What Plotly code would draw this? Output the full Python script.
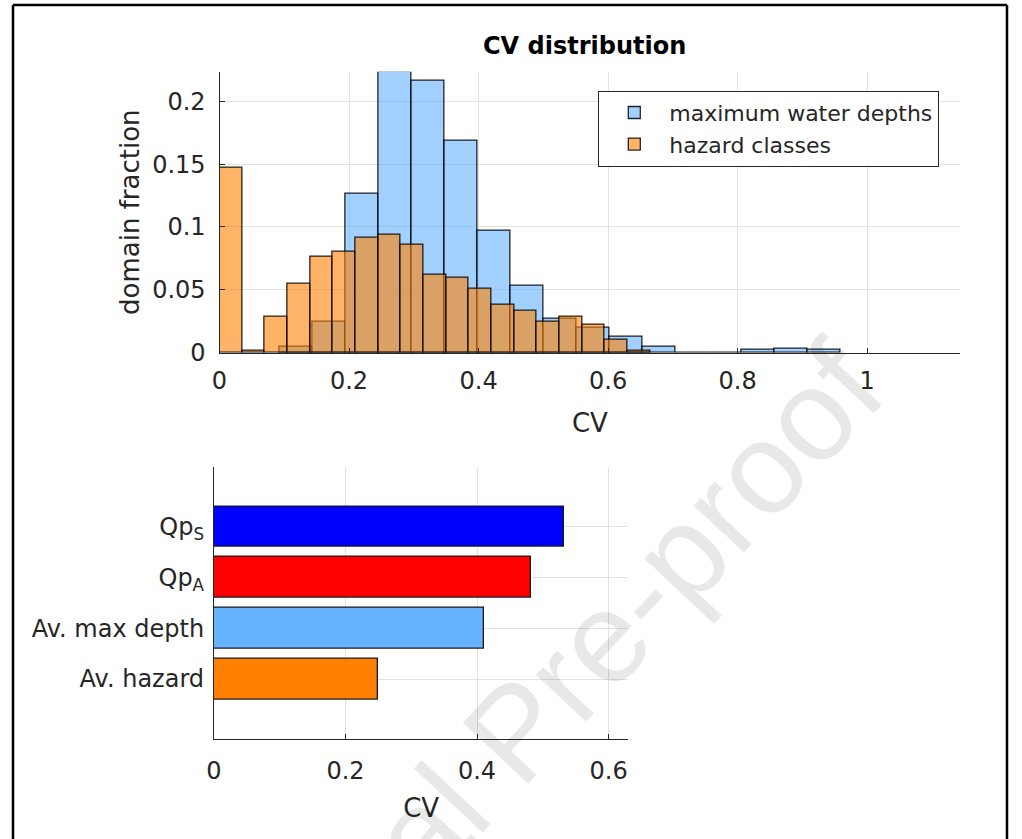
import plotly.graph_objects as go

# ---- data -------------------------------------------------------------
# Histogram of CV for maximum water depths (bin start, bin width, fractions)
depth_bin_start = 0.0924
depth_bin_width = 0.0510
depth_fraction = [0.0048, 0.0246, 0.1262, 0.2235, 0.2167, 0.1688, 0.0971,
                  0.0532, 0.0273, 0.0198, 0.0127, 0.0045, 0.0, 0.0,
                  0.0021, 0.0035, 0.0021]

# Histogram of CV for hazard classes
hazard_bin_start = 0.0
hazard_bin_width = 0.0350
hazard_fraction = [0.1474, 0.0013, 0.0283, 0.0545, 0.0760, 0.0807, 0.0913,
                   0.0942, 0.0857, 0.0617, 0.0595, 0.0511, 0.0379, 0.0331,
                   0.0246, 0.0283, 0.0222, 0.0103, 0.0019]

# CV of aggregated quantities
bar_labels = ["Qp<sub>S</sub>", "Qp<sub>A</sub>", "Av. max depth", "Av. hazard"]
bar_values = [0.532, 0.482, 0.411, 0.250]
bar_colors = ["#0000FF", "#FF0000", "#66B3FF", "#FF8000"]

hist_xticks = [0, 0.2, 0.4, 0.6, 0.8, 1]
hist_yticks = [0, 0.05, 0.1, 0.15, 0.2]
bar_xticks = [0, 0.2, 0.4, 0.6]


def tick_text(vals):
    return [("%g" % v) for v in vals]


def centers(start, width, n):
    return [start + width * (i + 0.5) for i in range(n)]


W, H = 1022, 839
FONT = "DejaVu Sans"
AX = "#262626"
GRID = "#e2e2e2"

fig = go.Figure()

fig.add_trace(go.Bar(
    x=centers(depth_bin_start, depth_bin_width, len(depth_fraction)),
    y=depth_fraction, width=depth_bin_width,
    name="maximum water depths",
    marker=dict(color="rgba(102,179,255,0.6)",
                line=dict(color="rgba(0,0,0,0.85)", width=1.3)),
    xaxis="x", yaxis="y"))

fig.add_trace(go.Bar(
    x=centers(hazard_bin_start, hazard_bin_width, len(hazard_fraction)),
    y=hazard_fraction, width=hazard_bin_width,
    name="hazard classes",
    marker=dict(color="rgba(255,128,0,0.6)",
                line=dict(color="rgba(0,0,0,0.85)", width=1.3)),
    xaxis="x", yaxis="y"))

fig.add_trace(go.Bar(
    x=bar_values, y=bar_labels, orientation="h", width=0.8,
    marker=dict(color=bar_colors, line=dict(color="#1a1a1a", width=1.3)),
    showlegend=False, xaxis="x2", yaxis="y2"))


def px_x(p):
    return p / W


def px_y(p):
    return 1 - p / H


common_axis = dict(
    showline=True, linecolor=AX, linewidth=1.2,
    ticks="inside", ticklen=5, tickcolor=AX, tickwidth=1,
    showgrid=True, gridcolor=GRID, gridwidth=1,
    zeroline=False, mirror=False, automargin=False,
    tickfont=dict(family=FONT, size=24, color=AX),
)

fig.update_layout(
    width=W, height=H,
    margin=dict(l=0, r=0, t=0, b=0),
    paper_bgcolor="white", plot_bgcolor="white",
    barmode="overlay", bargap=0,
    font=dict(family=FONT, color=AX),
    xaxis=dict(common_axis,
               domain=[px_x(219.5), px_x(960.4)], anchor="y",
               range=[0, 1.144],
               tickvals=hist_xticks, ticktext=tick_text(hist_xticks),
               ticklabelstandoff=6,
               title=dict(text="CV", font=dict(family=FONT, size=26, color=AX),
                          standoff=20)),
    yaxis=dict(common_axis,
               domain=[px_y(352.7), px_y(71.7)], anchor="x",
               range=[0, 0.2235],
               tickvals=hist_yticks, ticktext=tick_text(hist_yticks),
               ticklabelstandoff=8,
               title=dict(text="domain fraction",
                          font=dict(family=FONT, size=26, color=AX),
                          standoff=5)),
    xaxis2=dict(common_axis,
                domain=[px_x(214), px_x(628.3)], anchor="y2",
                range=[0, 0.63],
                tickvals=bar_xticks, ticktext=tick_text(bar_xticks),
                ticklabelstandoff=10,
                title=dict(text="CV", font=dict(family=FONT, size=26, color=AX),
                           standoff=14)),
    yaxis2=dict(common_axis,
                domain=[px_y(739), px_y(466.7)], anchor="x2",
                type="category", categoryorder="array",
                categoryarray=bar_labels,
                range=[len(bar_labels) - 1 + 1.18, -1.18],
                ticks="", ticklabelstandoff=4),
    legend=dict(x=px_x(598.3), y=px_y(90.7), xanchor="left", yanchor="top",
                bgcolor="white", bordercolor=AX, borderwidth=1,
                font=dict(family=FONT, size=22, color=AX),
                tracegroupgap=0, itemwidth=60),
)

# Title of the histogram panel
fig.add_annotation(text="<b>CV distribution</b>", xref="paper", yref="paper",
                   x=px_x(584), y=px_y(46), xanchor="center", yanchor="middle",
                   showarrow=False,
                   font=dict(family=FONT, size=24, color="black"))

# Diagonal watermark
fig.add_annotation(text="Journal Pre-proof", xref="paper", yref="paper",
                   x=px_x(515), y=px_y(732), xanchor="center", yanchor="middle",
                   showarrow=False, textangle=-47,
                   font=dict(family="Liberation Sans", size=130,
                             color="rgba(0,0,0,0.09)"))

# Page frame
frame = dict(type="line", xref="paper", yref="paper",
             line=dict(color="black", width=2.5))
fig.add_shape(frame, x0=px_x(13), x1=px_x(1007), y0=px_y(5), y1=px_y(5))
fig.add_shape(frame, x0=px_x(13), x1=px_x(13), y0=px_y(5), y1=0)
fig.add_shape(frame, x0=px_x(1007), x1=px_x(1007), y0=px_y(5), y1=0)

fig.write_html("out.html")
